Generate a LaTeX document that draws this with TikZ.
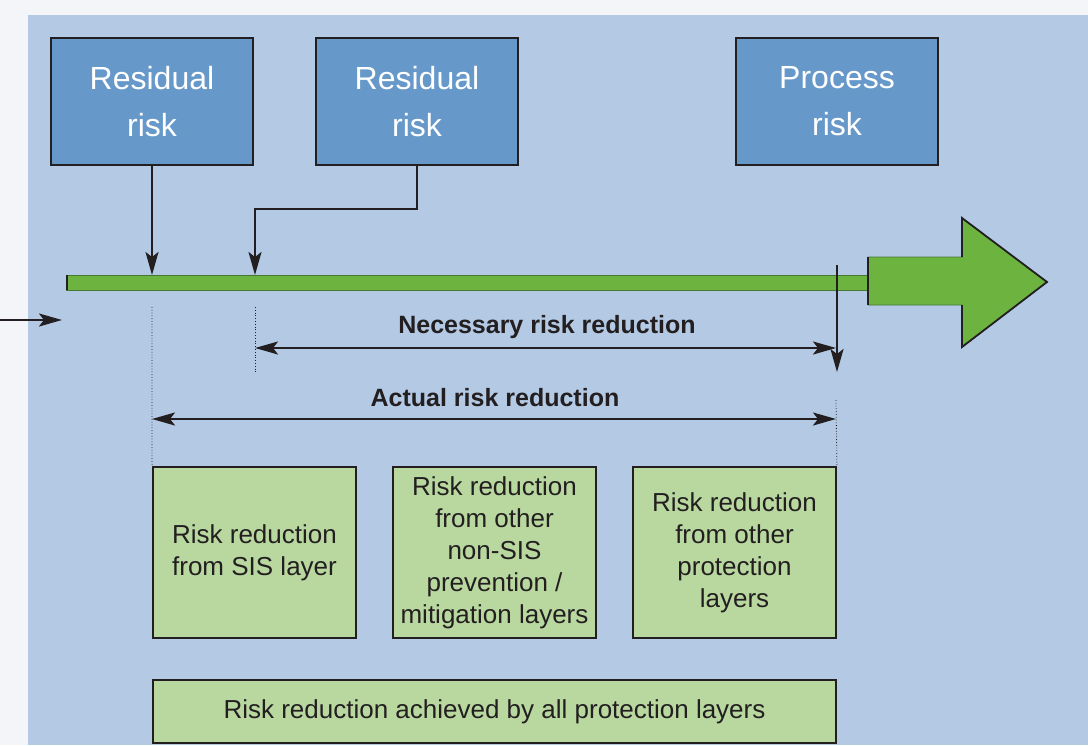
\documentclass[tikz,border=0pt]{standalone}
\usepackage{fontspec}
\setmainfont{Liberation Sans}
\usetikzlibrary{arrows.meta}
\definecolor{ink}{RGB}{35,31,32}
\definecolor{outer}{RGB}{243,245,249}
\definecolor{panel}{RGB}{179,201,228}
\definecolor{riskblue}{RGB}{102,153,201}
\definecolor{bargreen}{RGB}{108,179,63}
\definecolor{bardark}{RGB}{70,120,50}
\definecolor{layergreen}{RGB}{185,216,160}
\begin{document}
\begin{tikzpicture}[x=1pt,y=-1pt,
riskbox/.style={draw=ink,line width=1.8pt,fill=riskblue,text=white,minimum width=202pt,minimum height=127pt,inner sep=0pt,align=center,font=\fontsize{32}{45}\selectfont},
layerbox/.style={draw=ink,line width=1.8pt,fill=layergreen,text=ink,minimum width=203pt,minimum height=171pt,inner sep=0pt,align=center,font=\fontsize{26}{32}\selectfont},
lbl/.style={text=ink,font=\bfseries\fontsize{25}{30}\selectfont},
arr/.style={ink,line width=2.2pt,-{Stealth[length=23pt,width=13pt,inset=5pt]}},
span/.style={ink,line width=2.2pt,{Stealth[length=23pt,width=13pt,inset=5pt]}-{Stealth[length=23pt,width=13pt,inset=5pt]}},
guide/.style={ink,line width=0.8pt,dotted}]
\useasboundingbox(0,0)rectangle(1088,745);
\fill[outer](0,0)rectangle(1088,745);
\fill[panel](28,15)rectangle(1088,745);
\node[riskbox](res1)at(152,101.5){\raisebox{2pt}{Residual}\\risk};
\node[riskbox](res2)at(417,101.5){\raisebox{2pt}{Residual}\\risk};
\node[riskbox](proc)at(837,101.5){\raisebox{2pt}{Process}\\risk};
\fill[bargreen,draw=bardark,line width=0.6pt](66,275)rectangle(868,290);
\draw[ink,line width=2.2pt](67,275)--(67,290);
\path[fill=bargreen,draw=bardark,line width=0.6pt](868,257)--(962,257)--(962,218)--(1047,282)--(962,347)--(962,305)--(868,305)--cycle;
\draw[ink,line width=2.2pt](868,257)--(868,305);
\draw[ink,line width=1.8pt,line join=miter](962,257)--(962,218)--(1047,282)--(962,347)--(962,305);
\coordinate(hit1)at(152,275);
\coordinate(hit2)at(255,275);
\draw[arr](res1.south)--(hit1);
\draw[arr](res2.south)--++(0,43)-|(hit2);
\coordinate(in0)at(0,320);
\coordinate(in1)at(62,320);
\draw[arr](in0)--(in1);
\coordinate(top)at(837,265);
\coordinate(drop)at(837,372);
\draw[arr](top)--(drop);
\node[layerbox](sis)at(254.5,552.5){Risk reduction\\from SIS layer};
\node[layerbox](nonsis)at(494.5,552.5){Risk reduction\\from other\\non-SIS\\prevention /\\mitigation layers};
\node[layerbox](other)at(734.5,552.5){Risk reduction\\from other\\protection\\layers};
\node[layerbox,minimum width=683pt,minimum height=63pt](all)at(494.5,711.5){Risk reduction achieved by all protection layers};
\draw[guide](152,307)--(sis.north west);
\draw[guide](255,307)--(255,372);
\draw[guide](836,400)--(other.north east);
\coordinate(nl)at(255,348);
\coordinate(nr)at(836,348);
\coordinate(al)at(152,419);
\coordinate(ar)at(836,419);
\draw[span](nl)--(nr);
\draw[span](al)--(ar);
\node[lbl](need)at(547,327){Necessary risk reduction};
\node[lbl](act)at(495,398){Actual risk reduction};
\end{tikzpicture}
\end{document}
